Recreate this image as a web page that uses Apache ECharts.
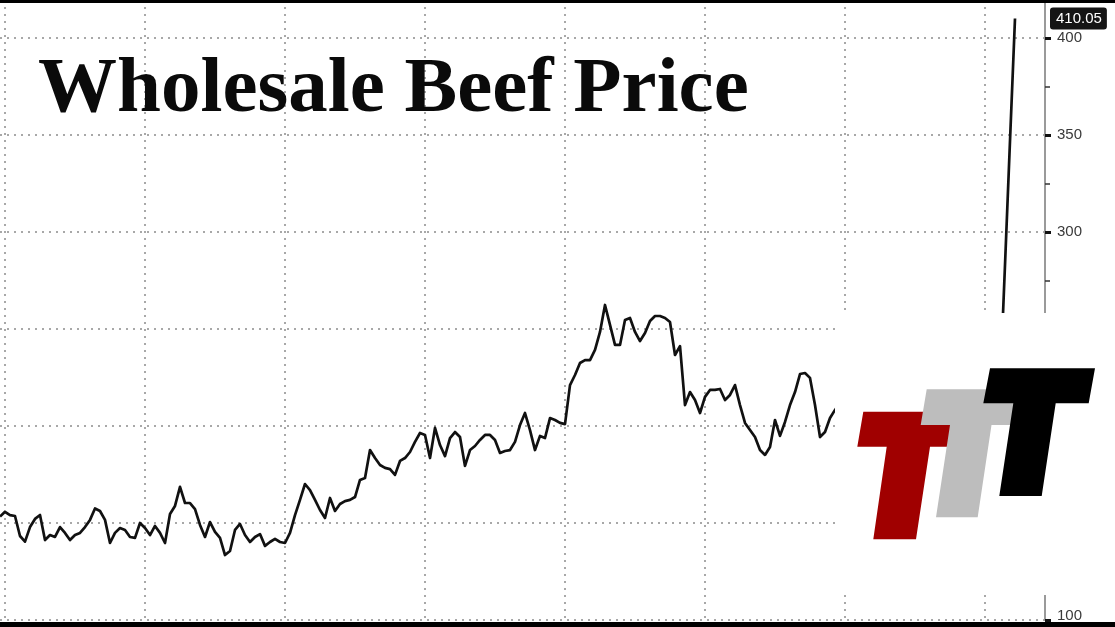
<!DOCTYPE html>
<html>
<head>
<meta charset="utf-8">
<script src="https://cdn.jsdelivr.net/npm/echarts@6/dist/echarts.min.js"></script>
<style>
html,body{margin:0;padding:0;background:#fff;}
#chart{width:1115px;height:627px;}
</style>
</head>
<body>
<div id="chart"></div>
<script>
// ---- data ----
const titleText = 'Wholesale Beef Price';
const priceValues = [
  153.3, 155.8, 154.1, 153.6, 143.3, 140.4, 147.9, 152.1, 154.1, 141.2,
  143.8, 142.8, 147.9, 144.9, 141.2, 143.8, 144.9, 147.9, 151.6, 157.5,
  156.2, 151.6, 139.7, 144.9, 147.4, 146.4, 142.8, 142.3, 150.0, 147.4,
  143.8, 148.5, 144.9, 139.7, 154.6, 158.8, 168.6, 160.3, 160.3, 157.2,
  149.0, 142.8, 150.5, 145.4, 142.3, 133.5, 135.6, 146.4, 149.5, 143.8,
  140.2, 142.8, 144.3, 138.2, 140.2, 141.8, 140.2, 139.7, 144.9, 154.1,
  161.9, 170.1, 167.0, 161.9, 156.7, 152.6, 162.9, 156.2, 159.8, 161.3,
  161.9, 163.4, 172.2, 173.2, 187.6, 183.5, 179.9, 178.4, 177.8, 174.8,
  182.0, 183.5, 186.6, 191.8, 196.4, 195.4, 183.5, 199.0, 190.2, 184.5,
  193.8, 196.9, 194.3, 179.4, 187.6, 189.7, 192.8, 195.4, 195.4, 192.8,
  186.1, 187.1, 187.6, 191.8, 200.5, 206.7, 197.9, 187.6, 194.9, 193.8,
  204.1, 203.1, 201.6, 201.0, 221.1, 226.3, 232.5, 234.0, 234.0, 239.2,
  248.5, 262.4, 252.1, 241.8, 241.8, 254.6, 255.7, 248.5, 243.8, 247.9,
  254.1, 256.7, 256.7, 255.7, 253.6, 236.6, 241.2, 210.8, 217.5, 213.4,
  206.7, 215.0, 218.6, 218.6, 219.1, 213.4, 216.0, 221.1, 210.8, 201.6,
  197.9, 194.3, 187.6, 185.1, 189.2, 203.1, 194.9, 202.1, 210.8, 217.5,
  226.8, 227.3, 224.8, 210.8, 194.3, 196.9, 204.1, 208.3,
  212, 218, 225, 221, 214, 208, 203, 207, 213, 219,
  216, 210, 205, 199, 202, 208, 214, 211, 206, 201,
  197, 203, 209, 215, 212, 207, 204, 209, 213, 210,
  206, 212,
  220, 283, 347, 410.05
];
const lastValue = 410.05;
const periodCount = 210;               // periods spanned by the time axis
const periodsPerGridLine = 28;          // vertical grid every 28 periods
const categories = Array.from({length: periodCount}, (_, i) => 'P' + (i + 1));
const yMin = 100;
const yMax = 419.6;
const yInterval = 50;

// ---- chart ----
const chart = echarts.init(document.getElementById('chart'), null, {renderer: 'canvas'});

const dotted = {color: '#a8a8a8', width: 2, type: [2, 5]};

const option = {
  animation: false,
  backgroundColor: '#ffffff',
  title: {
    text: titleText,
    left: 33,
    top: 46,
    textStyle: {
      fontFamily: 'Liberation Serif',
      fontWeight: 'bold',
      fontSize: 79,
      color: '#0a0a0a'
    }
  },
  grid: {left: 0, right: 70, top: 0, bottom: 7, containLabel: false},
  xAxis: {
    type: 'category',
    data: categories,
    boundaryGap: false,
    axisLine: {show: false},
    axisTick: {show: false},
    axisLabel: {show: false},
    splitLine: {
      show: true,
      interval: (idx) => idx % periodsPerGridLine === 1,
      lineStyle: dotted
    }
  },
  yAxis: {
    type: 'value',
    position: 'right',
    min: yMin,
    max: yMax,
    interval: yInterval,
    axisLine: {show: true, lineStyle: {color: '#9a9a9a', width: 2}},
    axisTick: {show: true, inside: false, length: 6, lineStyle: {color: '#111', width: 3}},
    minorTick: {show: true, splitNumber: 2, length: 5, lineStyle: {color: '#333', width: 1.5}},
    axisLabel: {
      show: true,
      margin: 12,
      color: '#3a3a3a',
      fontFamily: 'Liberation Sans',
      fontSize: 15,
      showMaxLabel: false,
      formatter: (v) => (v === yMin ? '{lo|' + v + '}' : String(v)),
      rich: {
        lo: {color: '#3a3a3a', fontFamily: 'Liberation Sans', fontSize: 15, padding: [0, 0, 9, 0]}
      }
    },
    splitLine: {show: true, lineStyle: dotted}
  },
  series: [{
    type: 'line',
    data: priceValues,
    showSymbol: false,
    symbol: 'none',
    smooth: false,
    lineStyle: {color: '#111', width: 2.7, join: 'round'},
    z: 5,
    markLine: {
      silent: true,
      symbol: ['none', 'none'],
      lineStyle: {color: 'rgba(0,0,0,0)', width: 0, type: 'solid'},
      data: [{yAxis: lastValue}],
      label: {
        show: true,
        position: 'end',
        distance: 5,
        opacity: 1,
        formatter: (p) => Number(p.value).toFixed(2),
        color: '#ffffff',
        backgroundColor: '#151515',
        fontFamily: 'Liberation Sans',
        fontSize: 15,
        padding: [4, 5, 3, 6],
        borderRadius: 3
      }
    }
  }],
  graphic: {
    elements: [
      // top & bottom black frame bars
      {type: 'rect', z: 100, shape: {x: 0, y: 0, width: 1115, height: 3}, style: {fill: '#000'}},
      {type: 'rect', z: 100, shape: {x: 0, y: 622, width: 1115, height: 5}, style: {fill: '#000'}},
      // logo panel
      {type: 'rect', z: 100, shape: {x: 835, y: 313, width: 280, height: 282}, style: {fill: '#ffffff'}},
      {type: 'polygon', z: 101, shape: {points: [[863.3, 411.7], [956.7, 411.7], [950.7, 446.7], [930, 446.7], [916, 539.3], [873.3, 539.3], [886.7, 446.7], [857.3, 446.7]]}, style: {fill: '#a00000'}},
      {type: 'polygon', z: 102, shape: {points: [[926.7, 389.3], [1022.7, 389.3], [1016.7, 425], [991.5, 425], [977.7, 517.3], [936, 517.3], [950, 425], [920.7, 425]]}, style: {fill: '#bdbdbd'}},
      {type: 'polygon', z: 103, shape: {points: [[990, 368.3], [1095, 368.3], [1088.7, 403.3], [1055.7, 403.3], [1041.7, 496], [999.3, 496], [1013.3, 403.3], [983.3, 403.3]]}, style: {fill: '#000000'}}
    ]
  }
};

chart.setOption(option);
</script>
</body>
</html>
